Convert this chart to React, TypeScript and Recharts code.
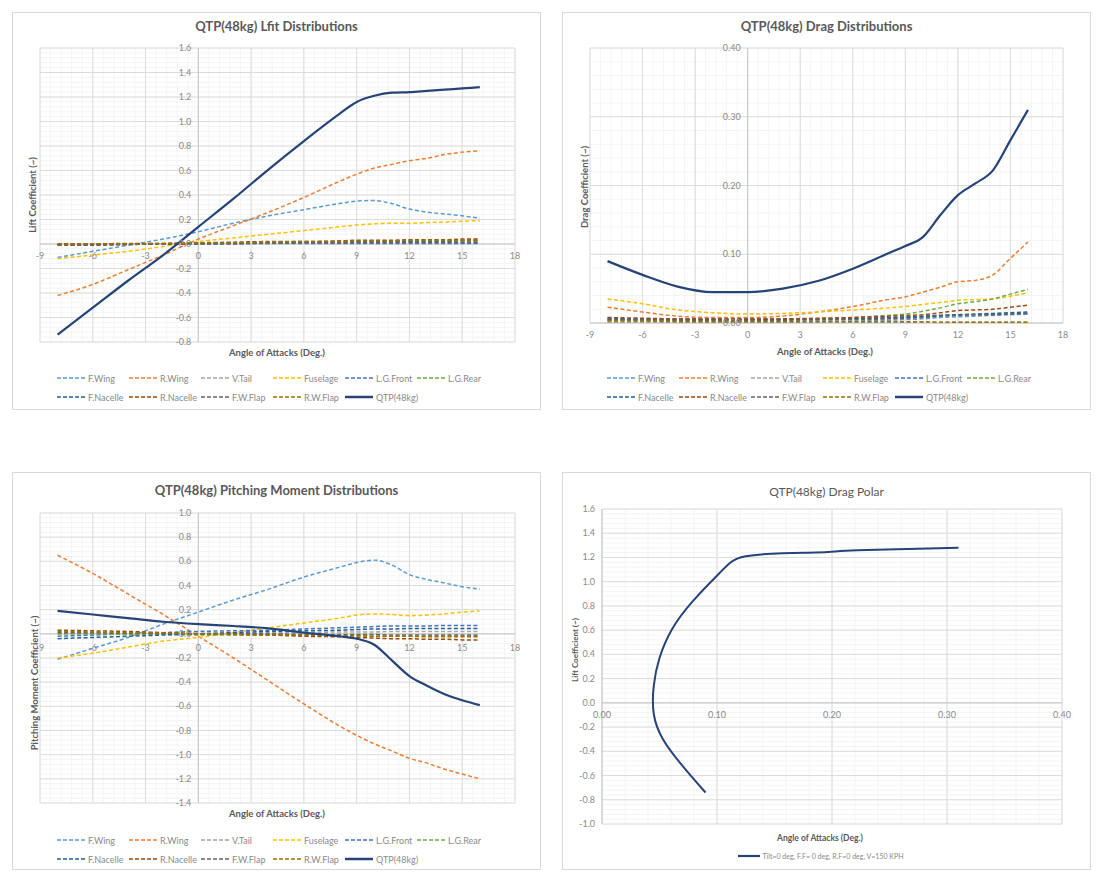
import React from 'react';
import { CartesianGrid, Legend, Line, LineChart, ReferenceLine, XAxis, YAxis } from 'recharts';

// angle of attack (deg.)
const aoa = [-8, -6, -4, -2, 0, 2, 4, 6, 8, 9, 10, 11, 12, 13, 14, 15, 16];

const seriesNames = ['F.Wing', 'R.Wing', 'V.Tail', 'Fuselage', 'L.G.Front', 'L.G.Rear', 'F.Nacelle', 'R.Nacelle', 'F.W.Flap', 'R.W.Flap', 'QTP(48kg)'];
const seriesColors = ['#5b9bd5', '#ed7d31', '#a5a5a5', '#ffc000', '#4472c4', '#70ad47', '#255e91', '#9e480e', '#636363', '#997300', '#264478'];

// lift coefficient
const liftFWing = [-0.11, -0.06, -0.01, 0.04, 0.1, 0.17, 0.23, 0.28, 0.33, 0.35, 0.355, 0.33, 0.285, 0.26, 0.245, 0.23, 0.21];
const liftRWing = [-0.42, -0.33, -0.21, -0.09, 0.04, 0.15, 0.26, 0.38, 0.51, 0.57, 0.62, 0.65, 0.68, 0.7, 0.73, 0.75, 0.76];
const liftVTail = [-0.01, -0.01, -0.005, 0, 0, 0.005, 0.005, 0.01, 0.01, 0.01, 0.01, 0.01, 0.01, 0.01, 0.01, 0.01, 0.01];
const liftFuselage = [-0.12, -0.09, -0.06, -0.02, 0.02, 0.05, 0.08, 0.11, 0.14, 0.155, 0.165, 0.17, 0.17, 0.175, 0.18, 0.185, 0.19];
const liftLGFront = [0, 0, 0, 0, 0, 0, 0.005, 0.005, 0.005, 0.005, 0.005, 0.005, 0.005, 0.005, 0.005, 0.005, 0.005];
const liftLGRear = [-0.01, -0.005, 0, 0, 0.005, 0.01, 0.01, 0.015, 0.015, 0.02, 0.02, 0.02, 0.02, 0.02, 0.02, 0.02, 0.02];
const liftFNacelle = [-0.005, -0.005, 0, 0, 0.005, 0.01, 0.01, 0.015, 0.02, 0.02, 0.02, 0.025, 0.025, 0.025, 0.025, 0.03, 0.03];
const liftRNacelle = [0, 0, 0.005, 0.005, 0.01, 0.015, 0.02, 0.02, 0.025, 0.03, 0.03, 0.03, 0.035, 0.035, 0.035, 0.04, 0.04];
const liftFWFlap = [-0.01, -0.01, -0.005, 0, 0, 0.005, 0.01, 0.01, 0.01, 0.015, 0.015, 0.015, 0.015, 0.015, 0.015, 0.015, 0.015];
const liftRWFlap = [-0.005, 0, 0, 0.005, 0.01, 0.01, 0.015, 0.02, 0.02, 0.025, 0.025, 0.025, 0.03, 0.03, 0.03, 0.03, 0.03];
const liftQTP = [-0.74, -0.52, -0.3, -0.09, 0.14, 0.37, 0.61, 0.84, 1.06, 1.16, 1.21, 1.235, 1.24, 1.25, 1.26, 1.27, 1.28];

// drag coefficient
const dragFWing = [0.004, 0.003, 0.002, 0.002, 0.002, 0.002, 0.003, 0.003, 0.004, 0.005, 0.006, 0.008, 0.009, 0.01, 0.011, 0.012, 0.013];
const dragRWing = [0.023, 0.016, 0.01, 0.008, 0.008, 0.01, 0.016, 0.024, 0.034, 0.038, 0.045, 0.052, 0.06, 0.062, 0.07, 0.094, 0.118];
const dragVTail = [0.001, 0.001, 0.001, 0.001, 0.001, 0.001, 0.001, 0.001, 0.001, 0.001, 0.001, 0.001, 0.001, 0.001, 0.001, 0.001, 0.001];
const dragFuselage = [0.035, 0.028, 0.019, 0.015, 0.013, 0.014, 0.016, 0.019, 0.022, 0.024, 0.027, 0.03, 0.033, 0.034, 0.035, 0.039, 0.044];
const dragLGFront = [0.007, 0.006, 0.006, 0.006, 0.006, 0.006, 0.006, 0.007, 0.008, 0.009, 0.01, 0.011, 0.012, 0.012, 0.013, 0.013, 0.014];
const dragLGRear = [0.004, 0.004, 0.004, 0.004, 0.004, 0.005, 0.006, 0.008, 0.011, 0.013, 0.017, 0.022, 0.028, 0.031, 0.035, 0.042, 0.049];
const dragFNacelle = [0.006, 0.005, 0.005, 0.005, 0.005, 0.005, 0.005, 0.006, 0.007, 0.008, 0.009, 0.011, 0.012, 0.013, 0.014, 0.015, 0.016];
const dragRNacelle = [0.008, 0.007, 0.006, 0.006, 0.006, 0.006, 0.007, 0.008, 0.01, 0.011, 0.012, 0.015, 0.018, 0.019, 0.02, 0.023, 0.026];
const dragFWFlap = [0.005, 0.005, 0.004, 0.004, 0.004, 0.004, 0.005, 0.005, 0.006, 0.007, 0.008, 0.01, 0.011, 0.012, 0.012, 0.013, 0.014];
const dragRWFlap = [0.003, 0.003, 0.002, 0.002, 0.002, 0.002, 0.002, 0.002, 0.002, 0.002, 0.002, 0.001, 0.001, 0.001, 0.001, 0.001, 0.001];
const dragQTP = [0.09, 0.07, 0.053, 0.045, 0.045, 0.05, 0.061, 0.079, 0.101, 0.112, 0.125, 0.157, 0.186, 0.203, 0.222, 0.266, 0.31];

// pitching moment coefficient
const pmFWing = [-0.21, -0.12, -0.03, 0.08, 0.18, 0.28, 0.37, 0.47, 0.55, 0.59, 0.61, 0.57, 0.49, 0.45, 0.42, 0.39, 0.37];
const pmRWing = [0.65, 0.5, 0.33, 0.16, -0.02, -0.2, -0.39, -0.58, -0.76, -0.84, -0.91, -0.97, -1.03, -1.07, -1.12, -1.16, -1.2];
const pmVTail = [0, 0, 0, 0, 0.005, 0.005, 0.01, 0.01, 0.015, 0.015, 0.015, 0.02, 0.02, 0.02, 0.02, 0.02, 0.02];
const pmFuselage = [-0.2, -0.16, -0.11, -0.06, -0.03, 0.01, 0.05, 0.09, 0.13, 0.155, 0.165, 0.16, 0.15, 0.155, 0.165, 0.18, 0.19];
const pmLGFront = [-0.02, -0.01, 0, 0.01, 0.02, 0.025, 0.03, 0.04, 0.05, 0.055, 0.06, 0.065, 0.065, 0.065, 0.07, 0.07, 0.07];
const pmLGRear = [0, 0, -0.005, -0.005, -0.01, -0.01, -0.01, -0.015, -0.015, -0.015, -0.02, -0.02, -0.02, -0.02, -0.02, -0.02, -0.02];
const pmFNacelle = [-0.04, -0.03, -0.02, -0.01, 0, 0.01, 0.02, 0.025, 0.03, 0.035, 0.04, 0.04, 0.045, 0.045, 0.045, 0.045, 0.045];
const pmRNacelle = [0.03, 0.025, 0.02, 0.01, 0, -0.005, -0.01, -0.02, -0.025, -0.03, -0.035, -0.04, -0.04, -0.045, -0.045, -0.05, -0.05];
const pmFWFlap = [0.01, 0.01, 0.005, 0.005, 0, 0, 0, -0.005, -0.005, -0.005, -0.005, -0.01, -0.01, -0.01, -0.01, -0.01, -0.01];
const pmRWFlap = [0.02, 0.015, 0.01, 0.005, 0, -0.005, -0.01, -0.01, -0.015, -0.015, -0.02, -0.02, -0.02, -0.025, -0.025, -0.025, -0.025];
const pmQTP = [0.19, 0.16, 0.13, 0.1, 0.08, 0.065, 0.045, 0.01, -0.02, -0.04, -0.09, -0.22, -0.35, -0.43, -0.5, -0.55, -0.59];

// tick labels
const aoaTicks = [-9, -6, -3, 0, 3, 6, 9, 12, 15, 18];
const liftTicks = [-0.8, -0.6, -0.4, -0.2, 0, 0.2, 0.4, 0.6, 0.8, 1.0, 1.2, 1.4, 1.6];
const dragTicks = [0, 0.1, 0.2, 0.3, 0.4];
const pmTicks = [-1.4, -1.2, -1.0, -0.8, -0.6, -0.4, -0.2, 0, 0.2, 0.4, 0.6, 0.8, 1.0];
const polarClTicks = [-1.0, -0.8, -0.6, -0.4, -0.2, 0, 0.2, 0.4, 0.6, 0.8, 1.0, 1.2, 1.4, 1.6];
const polarCdTicks = [0, 0.1, 0.2, 0.3, 0.4];
const polarName = 'Tilt=0 deg, F.F= 0 deg, R.F=0 deg, V=150 KPH';

const W = 529;
const H = 398;
const FONT = 'Lato, "Open Sans", sans-serif';
const INK = '#595959';
const TICK_INK = '#8a8a8a';

const steps = (lo: number, hi: number, step: number) =>
  Array.from({ length: Math.round((hi - lo) / step) + 1 }, (_, i) => +(lo + i * step).toFixed(4));

function buildRows(series: number[][]) {
  return aoa.map((a, i) => {
    const row: any = { aoa: a };
    series.forEach((s, k) => (row['s' + k] = s[i]));
    return row;
  });
}

const liftRows = buildRows([liftFWing, liftRWing, liftVTail, liftFuselage, liftLGFront, liftLGRear, liftFNacelle, liftRNacelle, liftFWFlap, liftRWFlap, liftQTP]);
const dragRows = buildRows([dragFWing, dragRWing, dragVTail, dragFuselage, dragLGFront, dragLGRear, dragFNacelle, dragRNacelle, dragFWFlap, dragRWFlap, dragQTP]);
const pmRows = buildRows([pmFWing, pmRWing, pmVTail, pmFuselage, pmLGFront, pmLGRear, pmFNacelle, pmRNacelle, pmFWFlap, pmRWFlap, pmQTP]);
const polarRows = aoa.map((a, i) => ({ aoa: a, cd: dragQTP[i], cl: liftQTP[i] }));

function YTick(props: any) {
  const { y, payload, x0, digits } = props;
  return (
    <text x={x0 - 7} y={y} dy={3} textAnchor="end" fontSize={9} fill={TICK_INK}>
      {Number(payload.value).toFixed(digits)}
    </text>
  );
}

function XTick(props: any) {
  const { x, payload, y0, dy, digits } = props;
  return (
    <text x={x} y={y0 + dy} textAnchor="middle" fontSize={9} fill={TICK_INK}>
      {Number(payload.value).toFixed(digits)}
    </text>
  );
}

function LegendGrid(props: any) {
  const items = seriesNames.map((n, k) => {
    const hit = (props.payload || []).find((p: any) => p.value === n);
    return { name: n, color: hit ? hit.color : seriesColors[k], solid: k === 10 };
  });
  return (
    <div style={{ position: 'relative', width: W, height: 40 }}>
      {items.map((it, k) => (
        <div
          key={it.name}
          style={{ position: 'absolute', left: 45 + (k % 6) * 72, top: Math.floor(k / 6) * 19, display: 'flex', alignItems: 'center', height: 12 }}
        >
          <svg width={28} height={6}>
            <line x1={0} y1={3} x2={28} y2={3} stroke={it.color} strokeWidth={it.solid ? 2.5 : 1.5} strokeDasharray={it.solid ? undefined : '4 2'} />
          </svg>
          <span style={{ marginLeft: 3, fontSize: 9, color: TICK_INK, whiteSpace: 'nowrap' }}>{it.name}</span>
        </div>
      ))}
    </div>
  );
}

function Frame({ x, y, children }: any) {
  return (
    <div style={{ position: 'absolute', left: x, top: y, width: W, height: H, background: '#fff' }}>
      {children}
      <div style={{ position: 'absolute', inset: 0, border: '1px solid #d9d9d9', boxSizing: 'border-box', pointerEvents: 'none' }} />
    </div>
  );
}

function Title({ text, y, size = 13, weight = 700 }: any) {
  return (
    <div style={{ position: 'absolute', left: 0, top: y - size * 0.7, width: W, textAlign: 'center', fontSize: size, fontWeight: weight, color: INK, pointerEvents: 'none' }}>
      {text}
    </div>
  );
}

function AxisTitle({ text, cx, cy, rotate = false, size = 9.5 }: any) {
  return (
    <div
      style={{
        position: 'absolute',
        left: cx,
        top: cy,
        transform: `translate(-50%, -50%)${rotate ? ' rotate(-90deg)' : ''}`,
        whiteSpace: 'nowrap',
        fontSize: size,
        fontWeight: 700,
        color: INK,
        pointerEvents: 'none',
      }}
    >
      {text}
    </div>
  );
}

interface DistProps {
  rows: any[];
  plot: { top: number; right: number; bottom: number; left: number };
  yDomain: [number, number];
  yTicks: number[];
  yMinorStep: number;
  yDigits: number;
  xLabelDy: number;
  legendTop: number;
}

// axes take 1px each so recharts still draws their ticks
function DistChart({ rows, plot, yDomain, yTicks, yMinorStep, yDigits, xLabelDy, legendTop }: DistProps) {
  const plotW = W - plot.left - plot.right;
  const plotH = H - plot.top - plot.bottom;
  const x0 = plot.left + ((0 - -9) / 27) * plotW;
  const y0 = plot.top + ((yDomain[1] - 0) / (yDomain[1] - yDomain[0])) * plotH;
  const margin = { top: plot.top, right: plot.right, bottom: plot.bottom - 1, left: plot.left - 1 };
  return (
    <LineChart width={W} height={H} data={rows} margin={margin} style={{ fontFamily: FONT }}>
      <CartesianGrid stroke="#f4f4f4" verticalValues={steps(-9, 18, 0.6)} horizontalValues={steps(yDomain[0], yDomain[1], yMinorStep)} />
      <CartesianGrid stroke="#dcdcdc" verticalValues={aoaTicks} horizontalValues={yTicks} />
      <XAxis
        dataKey="aoa"
        type="number"
        domain={[-9, 18]}
        ticks={aoaTicks}
        interval={0}
        height={1}
        axisLine={false}
        tickLine={false}
        tick={(p: any) => <XTick {...p} y0={y0} dy={xLabelDy} digits={0} />}
      />
      <YAxis
        type="number"
        domain={yDomain}
        ticks={yTicks}
        interval={0}
        width={1}
        axisLine={false}
        tickLine={false}
        allowDataOverflow
        tick={(p: any) => <YTick {...p} x0={x0} digits={yDigits} />}
      />
      <ReferenceLine x={0} stroke="#c8c8c8" />
      <ReferenceLine y={0} stroke="#c8c8c8" />
      {seriesNames.map((n, k) => (
        <Line
          key={n}
          dataKey={'s' + k}
          name={n}
          type="monotone"
          stroke={seriesColors[k]}
          strokeWidth={k === 10 ? 2.2 : 1.5}
          strokeDasharray={k === 10 ? undefined : '4 2.5'}
          dot={false}
          activeDot={false}
          isAnimationActive={false}
        />
      ))}
      <Legend
        layout="horizontal"
        verticalAlign="middle"
        align="center"
        wrapperStyle={{ left: 0, top: legendTop, width: W, height: 40 }}
        content={(p: any) => <LegendGrid payload={p.payload} />}
      />
    </LineChart>
  );
}

function PolarChart() {
  const plot = { top: 37, right: 29, bottom: 46, left: 40 };
  const plotH = H - plot.top - plot.bottom;
  const y0 = plot.top + ((1.6 - 0) / 2.6) * plotH;
  const margin = { top: plot.top, right: plot.right, bottom: plot.bottom - 1, left: plot.left - 1 };
  return (
    <LineChart width={W} height={H} data={polarRows} margin={margin} style={{ fontFamily: FONT }}>
      <CartesianGrid stroke="#f4f4f4" verticalValues={steps(0, 0.4, 0.02)} horizontalValues={steps(-1, 1.6, 0.04)} />
      <CartesianGrid stroke="#dcdcdc" verticalValues={polarCdTicks} horizontalValues={polarClTicks} />
      <XAxis
        dataKey="cd"
        type="number"
        domain={[0, 0.4]}
        ticks={polarCdTicks}
        interval={0}
        height={1}
        axisLine={false}
        tickLine={false}
        tick={(p: any) => <XTick {...p} y0={y0} dy={15} digits={2} />}
      />
      <YAxis
        type="number"
        domain={[-1, 1.6]}
        ticks={polarClTicks}
        interval={0}
        width={1}
        axisLine={false}
        tickLine={false}
        allowDataOverflow
        tick={(p: any) => <YTick {...p} x0={plot.left} digits={1} />}
      />
      <ReferenceLine y={0} stroke="#c8c8c8" />
      <ReferenceLine x={0} stroke="#c8c8c8" />
      <Line dataKey="cl" name={polarName} type="natural" stroke="#264478" strokeWidth={2} dot={false} activeDot={false} isAnimationActive={false} />
      <Legend
        layout="horizontal"
        verticalAlign="middle"
        align="center"
        wrapperStyle={{ left: 0, top: 380, width: W, height: 14 }}
        content={(p: any) => {
          const it = (p.payload || [])[0];
          return (
            <div style={{ display: 'flex', justifyContent: 'center', alignItems: 'center', marginLeft: -12 }}>
              <svg width={22} height={6}>
                <line x1={0} y1={3} x2={22} y2={3} stroke={it ? it.color : '#264478'} strokeWidth={2.2} />
              </svg>
              <span style={{ marginLeft: 3, fontSize: 7, color: TICK_INK }}>{it ? it.value : polarName}</span>
            </div>
          );
        }}
      />
    </LineChart>
  );
}

export default function App() {
  return (
    <div style={{ position: 'absolute', left: 0, top: 0, width: 1101, height: 880, background: '#fff', fontFamily: FONT }}>
      <Frame x={12} y={12}>
        <DistChart
          rows={liftRows}
          plot={{ top: 36, right: 26, bottom: 68, left: 28 }}
          yDomain={[-0.8, 1.6]}
          yTicks={liftTicks}
          yMinorStep={0.04}
          yDigits={1}
          xLabelDy={15}
          legendTop={360}
        />
        <Title text="QTP(48kg) Lfit Distributions" y={15} />
        <AxisTitle text="Angle of Attacks (Deg.)" cx={265} cy={340} />
        <AxisTitle text="Lift Coefficient (~)" cx={20} cy={183} rotate />
      </Frame>

      <Frame x={562} y={12}>
        <DistChart
          rows={dragRows}
          plot={{ top: 36, right: 28, bottom: 87, left: 28 }}
          yDomain={[0, 0.4]}
          yTicks={dragTicks}
          yMinorStep={0.02}
          yDigits={2}
          xLabelDy={15}
          legendTop={360}
        />
        <Title text="QTP(48kg) Drag Distributions" y={15} />
        <AxisTitle text="Angle of Attacks (Deg.)" cx={263} cy={339} />
        <AxisTitle text="Drag Coefficient (~)" cx={22} cy={175} rotate />
      </Frame>

      <Frame x={12} y={472}>
        <DistChart
          rows={pmRows}
          plot={{ top: 41, right: 26, bottom: 67, left: 28 }}
          yDomain={[-1.4, 1.0]}
          yTicks={pmTicks}
          yMinorStep={0.04}
          yDigits={1}
          xLabelDy={17}
          legendTop={362}
        />
        <Title text="QTP(48kg) Pitching Moment Distributions" y={19} />
        <AxisTitle text="Angle of Attacks (Deg.)" cx={265} cy={341} />
        <AxisTitle text="Pitching Moment Coefficient (~)" cx={22} cy={211} rotate />
      </Frame>

      <Frame x={562} y={472}>
        <PolarChart />
        <Title text="QTP(48kg) Drag Polar" y={20} size={12} weight={400} />
        <AxisTitle text="Angle of Attacks (Deg.)" cx={258} cy={366} size={8.5} />
        <AxisTitle text="Lift Coefficient (~)" cx={13} cy={178} rotate size={8} />
      </Frame>
    </div>
  );
}
